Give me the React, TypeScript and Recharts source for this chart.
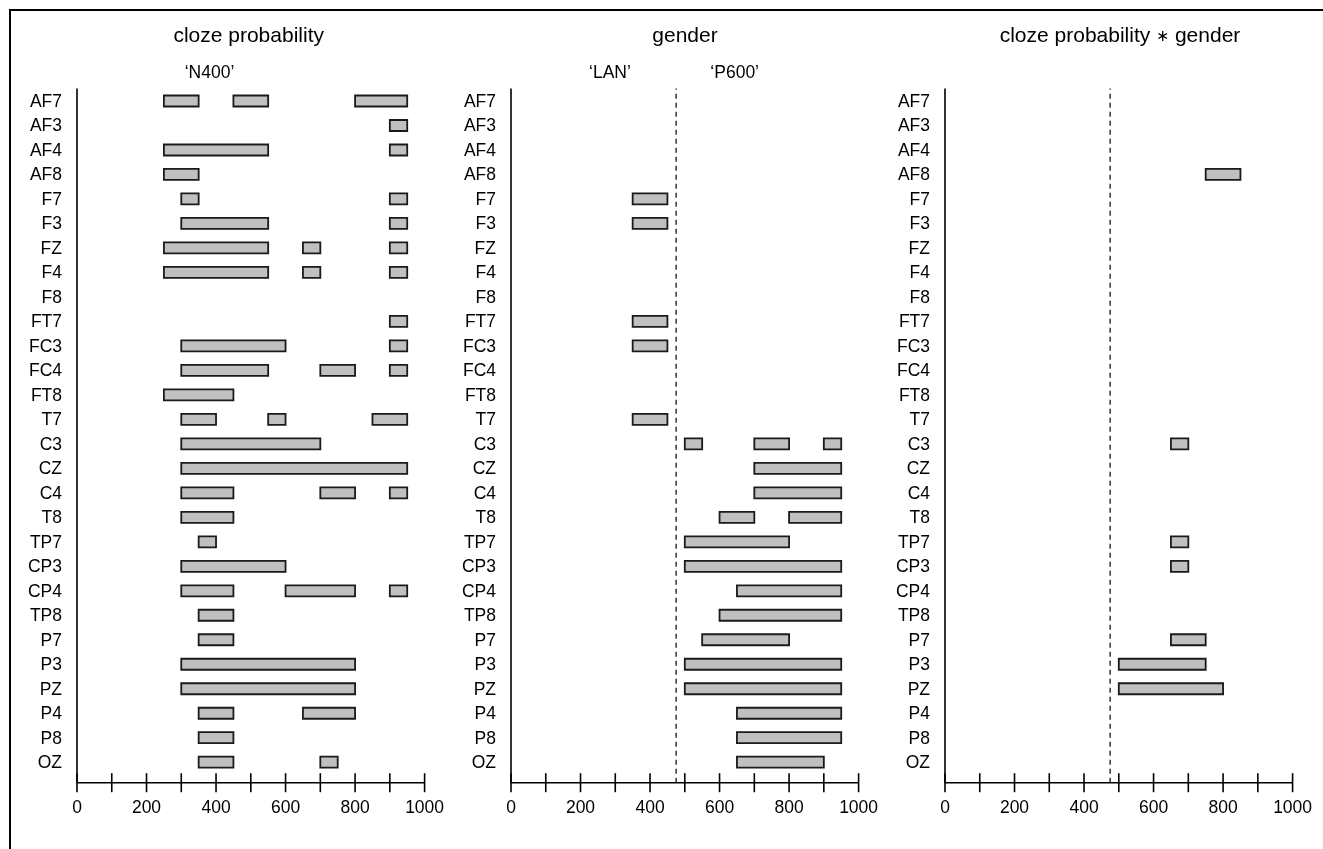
import React from 'react';
import { BarChart, Bar, XAxis, YAxis, ReferenceLine } from 'recharts';

type Span = [number, number];

const electrodes = [
  'AF7', 'AF3', 'AF4', 'AF8', 'F7', 'F3', 'FZ', 'F4', 'F8', 'FT7', 'FC3', 'FC4', 'FT8', 'T7',
  'C3', 'CZ', 'C4', 'T8', 'TP7', 'CP3', 'CP4', 'TP8', 'P7', 'P3', 'PZ', 'P4', 'P8', 'OZ',
];

const xTicks = [0, 100, 200, 300, 400, 500, 600, 700, 800, 900, 1000];
const xLabels = [0, 200, 400, 600, 800, 1000];
const dividerAt = 475;

// significant time windows (ms) per electrode
const clozeSpans: Record<string, Span[]> = {
  AF7: [[250, 350], [450, 550], [800, 950]],
  AF3: [[900, 950]],
  AF4: [[250, 550], [900, 950]],
  AF8: [[250, 350]],
  F7: [[300, 350], [900, 950]],
  F3: [[300, 550], [900, 950]],
  FZ: [[250, 550], [650, 700], [900, 950]],
  F4: [[250, 550], [650, 700], [900, 950]],
  FT7: [[900, 950]],
  FC3: [[300, 600], [900, 950]],
  FC4: [[300, 550], [700, 800], [900, 950]],
  FT8: [[250, 450]],
  T7: [[300, 400], [550, 600], [850, 950]],
  C3: [[300, 700]],
  CZ: [[300, 950]],
  C4: [[300, 450], [700, 800], [900, 950]],
  T8: [[300, 450]],
  TP7: [[350, 400]],
  CP3: [[300, 600]],
  CP4: [[300, 450], [600, 800], [900, 950]],
  TP8: [[350, 450]],
  P7: [[350, 450]],
  P3: [[300, 800]],
  PZ: [[300, 800]],
  P4: [[350, 450], [650, 800]],
  P8: [[350, 450]],
  OZ: [[350, 450], [700, 750]],
};

const genderSpans: Record<string, Span[]> = {
  F7: [[350, 450]],
  F3: [[350, 450]],
  FT7: [[350, 450]],
  FC3: [[350, 450]],
  T7: [[350, 450]],
  C3: [[500, 550], [700, 800], [900, 950]],
  CZ: [[700, 950]],
  C4: [[700, 950]],
  T8: [[600, 700], [800, 950]],
  TP7: [[500, 800]],
  CP3: [[500, 950]],
  CP4: [[650, 950]],
  TP8: [[600, 950]],
  P7: [[550, 800]],
  P3: [[500, 950]],
  PZ: [[500, 950]],
  P4: [[650, 950]],
  P8: [[650, 950]],
  OZ: [[650, 900]],
};

const interactionSpans: Record<string, Span[]> = {
  AF8: [[750, 850]],
  C3: [[650, 700]],
  TP7: [[650, 700]],
  CP3: [[650, 700]],
  P7: [[650, 750]],
  P3: [[500, 750]],
  PZ: [[500, 800]],
};

const toRows = (spans: Record<string, Span[]>) =>
  electrodes.map((name) => {
    const s = spans[name] || [];
    return { name, s0: s[0], s1: s[1], s2: s[2] };
  });

const XTick = (props: any) => {
  const { x, y, payload } = props;
  return (
    <g>
      <line x1={x} x2={x} y1={y - 9.5} y2={y + 9.5} stroke="#000" strokeWidth={1.6} />
      {xLabels.includes(payload.value) && (
        <text x={x} y={y + 24} dy="0.355em" textAnchor="middle" fontSize={17.5} fill="#000">
          {payload.value}
        </text>
      )}
    </g>
  );
};

const Panel = ({ spans, left, divider }: { spans: Record<string, Span[]>; left: number; divider: boolean }) => (
  <div style={{ position: 'absolute', left, top: 0 }}>
    <BarChart
      width={427.6}
      height={820}
      data={toRows(spans)}
      layout="vertical"
      margin={{ top: 80.5, right: 20, bottom: 5.3, left: 0 }}
      barSize={11}
      barGap={-11}
    >
      <XAxis
        type="number"
        domain={[0, 1000]}
        ticks={xTicks}
        interval={0}
        height={40}
        tickSize={0}
        tickMargin={0}
        tickLine={false}
        axisLine={{ stroke: '#000', strokeWidth: 1.6 }}
        tick={<XTick />}
      />
      <YAxis
        type="category"
        dataKey="name"
        width={60}
        interval={0}
        tickLine={false}
        tickSize={0}
        tickMargin={15}
        padding={{ top: 0, bottom: 8.5 }}
        axisLine={{ stroke: '#000', strokeWidth: 1.6 }}
        tick={{ fontSize: 17.5, fill: '#000' }}
      />
      {divider && <ReferenceLine x={dividerAt} stroke="#000" strokeWidth={1.2} strokeDasharray="5 4" />}
      {['s0', 's1', 's2'].map((k) => (
        <Bar key={k} dataKey={k} fill="#c0c0c0" stroke="#1a1a1a" strokeWidth={1.8} isAnimationActive={false} />
      ))}
    </BarChart>
  </div>
);

export default function App() {
  return (
    <div
      style={{
        position: 'relative',
        width: 1315,
        height: 833,
        fontFamily: '"Liberation Sans", Arial, sans-serif',
        background: '#fff',
      }}
    >
      <div style={{ position: 'fixed', left: 9, top: 9, width: 1400, height: 900, borderLeft: '2px solid #000', borderTop: '2px solid #000' }} />
      <Panel spans={clozeSpans} left={8.7} divider={false} />
      <Panel spans={genderSpans} left={442.7} divider />
      <Panel spans={interactionSpans} left={877} divider />
      <svg width={1315} height={833} style={{ position: 'absolute', left: 0, top: 0, pointerEvents: 'none' }}>
        <g fontSize={21} fill="#000" textAnchor="middle">
          <text x={240.7} y={34}>cloze probability</text>
          <text x={677} y={34}>gender</text>
          <text x={1112} y={34}>
            cloze probability <tspan fontSize={16} dy={-1}>∗</tspan>
            <tspan dy={1}> gender</tspan>
          </text>
        </g>
        <g fontSize={17.5} fill="#000" textAnchor="middle">
          <text x={201.5} y={70}>‘N400’</text>
          <text x={602} y={70}>‘LAN’</text>
          <text x={726.7} y={70}>‘P600’</text>
        </g>
      </svg>
    </div>
  );
}
